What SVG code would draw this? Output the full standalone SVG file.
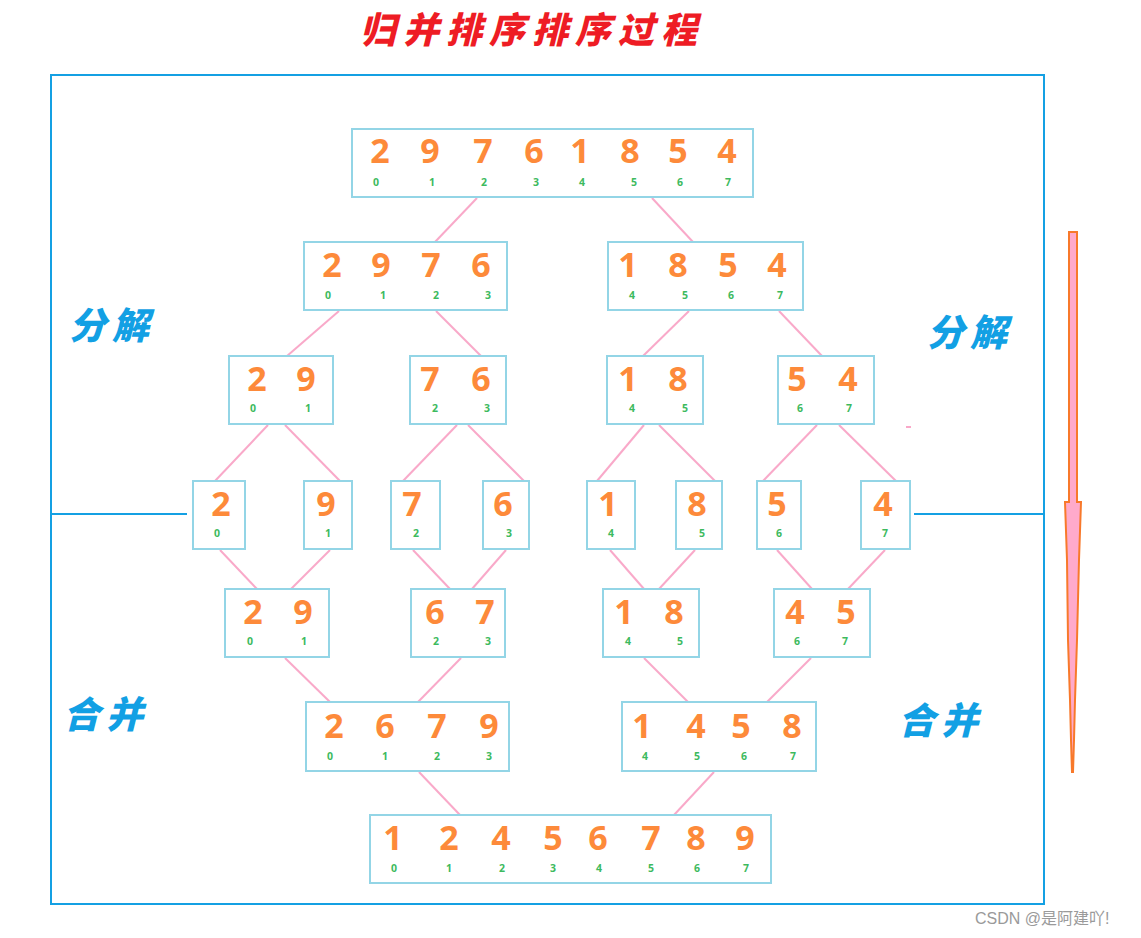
<svg xmlns="http://www.w3.org/2000/svg" width="1141" height="938" viewBox="0 0 1141 938">
<style>
.box{fill:#fff;stroke:#93d5e6;stroke-width:2}
.d{font-family:"Open Sans","Liberation Sans",sans-serif;font-weight:700;font-size:34px;fill:#fd8a3a;text-anchor:middle}
.i{font-family:"Open Sans","Liberation Sans",sans-serif;font-weight:700;font-size:10.5px;fill:#3dba5e;text-anchor:middle}
.c line{stroke:#f9a9c9;stroke-width:2}
.lbl{font-family:"Noto Sans CJK SC",sans-serif;font-weight:900;font-size:37px;fill:#12a0e4;font-style:italic;letter-spacing:6px}
</style>
<rect width="1141" height="938" fill="#fff"/>
<text x="532" y="43" text-anchor="middle" font-family="Noto Sans CJK SC, sans-serif" font-weight="900" font-style="italic" font-size="36" letter-spacing="7" fill="#ee1c24">归并排序排序过程</text>
<rect x="51" y="75" width="993" height="829" fill="none" stroke="#14a0e3" stroke-width="2"/>
<g id="hlines" stroke="#14a0e3" stroke-width="2">
<line x1="51" y1="514" x2="187" y2="514"/>
<line x1="914" y1="514" x2="1044" y2="514"/>
</g>
<g id="connectors" class="c">
<line x1="477" y1="198" x2="435" y2="242"/><line x1="652" y1="198" x2="693" y2="242"/>
<line x1="339" y1="311" x2="287" y2="356"/><line x1="436" y1="311" x2="481" y2="356"/>
<line x1="689" y1="311" x2="643" y2="356"/><line x1="779" y1="311" x2="822" y2="356"/>
<line x1="268" y1="425" x2="215" y2="481"/><line x1="285" y1="425" x2="340" y2="481"/>
<line x1="457" y1="425" x2="403" y2="481"/><line x1="468" y1="425" x2="524" y2="481"/>
<line x1="644" y1="425" x2="597" y2="481"/><line x1="659" y1="425" x2="715" y2="481"/>
<line x1="817" y1="425" x2="763" y2="481"/><line x1="839" y1="425" x2="896" y2="481"/>
<line x1="220" y1="550" x2="257" y2="589"/><line x1="330" y1="550" x2="291" y2="589"/>
<line x1="413" y1="550" x2="450" y2="589"/><line x1="506" y1="550" x2="472" y2="589"/>
<line x1="610" y1="550" x2="644" y2="589"/><line x1="695" y1="550" x2="659" y2="589"/>
<line x1="777" y1="550" x2="812" y2="589"/><line x1="885" y1="550" x2="848" y2="589"/>
<line x1="285" y1="658" x2="330" y2="702"/><line x1="461" y1="658" x2="418" y2="702"/>
<line x1="644" y1="658" x2="688" y2="702"/><line x1="811" y1="658" x2="767" y2="702"/>
<line x1="419" y1="772" x2="460" y2="815"/><line x1="714" y1="772" x2="674" y2="815"/>
<line x1="906" y1="427" x2="911" y2="427"/>
</g>
<g id="r1"><rect class="box" x="352" y="129" width="401" height="68"/>
<text class="d" y="163"><tspan x="380">2</tspan><tspan x="430">9</tspan><tspan x="483">7</tspan><tspan x="534">6</tspan><tspan x="580">1</tspan><tspan x="630">8</tspan><tspan x="678">5</tspan><tspan x="727">4</tspan></text>
<text class="i" y="186"><tspan x="376">0</tspan><tspan x="432">1</tspan><tspan x="484">2</tspan><tspan x="536">3</tspan><tspan x="582">4</tspan><tspan x="634">5</tspan><tspan x="680">6</tspan><tspan x="728">7</tspan></text></g>
<g id="r2a"><rect class="box" x="304" y="242" width="203" height="68"/>
<text class="d" y="277"><tspan x="332">2</tspan><tspan x="381">9</tspan><tspan x="431">7</tspan><tspan x="481">6</tspan></text>
<text class="i" y="299"><tspan x="328">0</tspan><tspan x="383">1</tspan><tspan x="436">2</tspan><tspan x="488">3</tspan></text></g>
<g id="r2b"><rect class="box" x="608" y="242" width="195" height="68"/>
<text class="d" y="277"><tspan x="628">1</tspan><tspan x="678">8</tspan><tspan x="728">5</tspan><tspan x="777">4</tspan></text>
<text class="i" y="299"><tspan x="632">4</tspan><tspan x="685">5</tspan><tspan x="731">6</tspan><tspan x="780">7</tspan></text></g>
<g id="r3a"><rect class="box" x="229" y="356" width="104" height="68"/>
<text class="d" y="391"><tspan x="257">2</tspan><tspan x="306">9</tspan></text>
<text class="i" y="412"><tspan x="253">0</tspan><tspan x="308">1</tspan></text></g>
<g id="r3b"><rect class="box" x="410" y="356" width="96" height="68"/>
<text class="d" y="391"><tspan x="430">7</tspan><tspan x="481">6</tspan></text>
<text class="i" y="412"><tspan x="435">2</tspan><tspan x="487">3</tspan></text></g>
<g id="r3c"><rect class="box" x="607" y="356" width="96" height="68"/>
<text class="d" y="391"><tspan x="628">1</tspan><tspan x="678">8</tspan></text>
<text class="i" y="412"><tspan x="632">4</tspan><tspan x="685">5</tspan></text></g>
<g id="r3d"><rect class="box" x="778" y="356" width="96" height="68"/>
<text class="d" y="391"><tspan x="797">5</tspan><tspan x="848">4</tspan></text>
<text class="i" y="412"><tspan x="800">6</tspan><tspan x="849">7</tspan></text></g>
<g id="r4a"><rect class="box" x="193" y="481" width="52" height="68"/><text class="d" x="221" y="516">2</text><text class="i" x="217" y="537">0</text></g>
<g id="r4b"><rect class="box" x="304" y="481" width="48" height="68"/><text class="d" x="326" y="516">9</text><text class="i" x="328" y="537">1</text></g>
<g id="r4c"><rect class="box" x="391" y="481" width="49" height="68"/><text class="d" x="412" y="516">7</text><text class="i" x="416" y="537">2</text></g>
<g id="r4d"><rect class="box" x="483" y="481" width="46" height="68"/><text class="d" x="503" y="516">6</text><text class="i" x="509" y="537">3</text></g>
<g id="r4e"><rect class="box" x="587" y="481" width="48" height="68"/><text class="d" x="608" y="516">1</text><text class="i" x="611" y="537">4</text></g>
<g id="r4f"><rect class="box" x="676" y="481" width="46" height="68"/><text class="d" x="697" y="516">8</text><text class="i" x="702" y="537">5</text></g>
<g id="r4g"><rect class="box" x="757" y="481" width="44" height="68"/><text class="d" x="777" y="516">5</text><text class="i" x="779" y="537">6</text></g>
<g id="r4h"><rect class="box" x="861" y="481" width="49" height="68"/><text class="d" x="883" y="516">4</text><text class="i" x="885" y="537">7</text></g>
<g id="r5a"><rect class="box" x="225" y="589" width="104" height="68"/>
<text class="d" y="624"><tspan x="253">2</tspan><tspan x="303">9</tspan></text>
<text class="i" y="645"><tspan x="250">0</tspan><tspan x="304">1</tspan></text></g>
<g id="r5b"><rect class="box" x="411" y="589" width="94" height="68"/>
<text class="d" y="624"><tspan x="435">6</tspan><tspan x="485">7</tspan></text>
<text class="i" y="645"><tspan x="436">2</tspan><tspan x="488">3</tspan></text></g>
<g id="r5c"><rect class="box" x="603" y="589" width="96" height="68"/>
<text class="d" y="624"><tspan x="624">1</tspan><tspan x="674">8</tspan></text>
<text class="i" y="645"><tspan x="628">4</tspan><tspan x="680">5</tspan></text></g>
<g id="r5d"><rect class="box" x="774" y="589" width="96" height="68"/>
<text class="d" y="624"><tspan x="795">4</tspan><tspan x="846">5</tspan></text>
<text class="i" y="645"><tspan x="797">6</tspan><tspan x="845">7</tspan></text></g>
<g id="r6a"><rect class="box" x="306" y="702" width="203" height="69"/>
<text class="d" y="738"><tspan x="334">2</tspan><tspan x="385">6</tspan><tspan x="437">7</tspan><tspan x="489">9</tspan></text>
<text class="i" y="760"><tspan x="330">0</tspan><tspan x="385">1</tspan><tspan x="437">2</tspan><tspan x="489">3</tspan></text></g>
<g id="r6b"><rect class="box" x="622" y="702" width="194" height="69"/>
<text class="d" y="738"><tspan x="642">1</tspan><tspan x="696">4</tspan><tspan x="741">5</tspan><tspan x="792">8</tspan></text>
<text class="i" y="760"><tspan x="645">4</tspan><tspan x="697">5</tspan><tspan x="744">6</tspan><tspan x="793">7</tspan></text></g>
<g id="r7"><rect class="box" x="370" y="815" width="401" height="68"/>
<text class="d" y="850"><tspan x="393">1</tspan><tspan x="449">2</tspan><tspan x="501">4</tspan><tspan x="553">5</tspan><tspan x="598">6</tspan><tspan x="651">7</tspan><tspan x="696">8</tspan><tspan x="745">9</tspan></text>
<text class="i" y="872"><tspan x="394">0</tspan><tspan x="449">1</tspan><tspan x="502">2</tspan><tspan x="553">3</tspan><tspan x="599">4</tspan><tspan x="651">5</tspan><tspan x="697">6</tspan><tspan x="746">7</tspan></text></g>
<g id="labels">
<text class="lbl" x="69" y="339">分解</text>
<text class="lbl" x="927" y="346">分解</text>
<text class="lbl" x="63" y="728">合并</text>
<text class="lbl" x="898" y="734">合并</text>
</g>
<g id="arrow"><polygon points="1069,232 1077,232 1077,502 1081,502 1079,560 1077,640 1075,700 1074,740 1073,772 1072,772 1071,740 1070,700 1068,640 1067,560 1065,502 1069,502" fill="#ffaacb" stroke="#f8792b" stroke-width="2"/></g>
<text x="975" y="924" font-family="Liberation Sans, Noto Sans CJK SC, sans-serif" font-size="16" fill="#9a9a9a">CSDN @是阿建吖!</text>
</svg>
